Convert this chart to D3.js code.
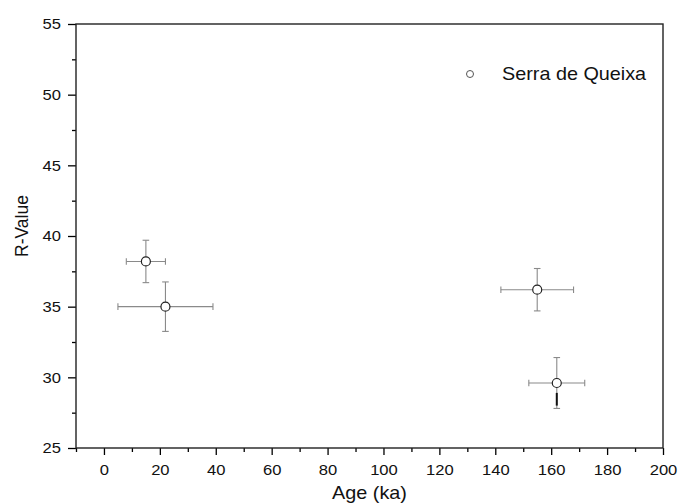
<!DOCTYPE html>
<html>
<head>
<meta charset="utf-8">
<script src="https://cdn.jsdelivr.net/npm/d3@7/dist/d3.min.js"></script>
<style>
  html, body { margin: 0; padding: 0; background: #fff; }
  svg { display: block; font-family: "Liberation Sans", Arial, sans-serif; }
</style>
</head>
<body>
<svg id="chart" width="678" height="504"></svg>
<script>
// ---- data ----
const ages = [15, 22, 155, 162];
const ageErrors = [7, 17, 13, 10];
const rValues = [38.2, 35.0, 36.2, 29.6];
const rErrors = [1.5, 1.75, 1.5, 1.8];
const xTicks = [0, 20, 40, 60, 80, 100, 120, 140, 160, 180, 200];
const yTicks = [25, 30, 35, 40, 45, 50, 55];
const seriesName = "Serra de Queixa";
const xTitle = "Age (ka)";
const yTitle = "R-Value";
// darker overlapping stroke seen on the lower error bar of the last point
const darkSegAge = [162];
const darkSegFrom = [28.9];
const darkSegTo = [28.0];

// ---- layout ----
const svg = d3.select("#chart");
const mL = 76, mR = 663, mT = 24, mB = 448;
const stretch = 1.07;
const tickFont = 15.5;

const x = d3.scaleLinear().domain([-10, 200]).range([mL, mR]);
const y = d3.scaleLinear().domain([25, 55]).range([mB, mT]);

const points = ages.map((a, i) => ({ x: a, xe: ageErrors[i], y: rValues[i], ye: rErrors[i] }));

// minor ticks
const xMinor = d3.range(-10, 201, 10).filter(v => !xTicks.includes(v));
const yMinor = d3.range(25, 55.01, 2.5).filter(v => !yTicks.includes(v));

svg.append("g").attr("transform", `translate(0,${mB})`)
  .call(d3.axisBottom(x).tickValues(xMinor).tickSize(4).tickFormat(""))
  .call(g => g.select(".domain").remove())
  .selectAll("line").attr("stroke", "#000").attr("stroke-width", 1.3);

svg.append("g").attr("transform", `translate(${mL},0)`)
  .call(d3.axisLeft(y).tickValues(yMinor).tickSize(4).tickFormat(""))
  .call(g => g.select(".domain").remove())
  .selectAll("line").attr("stroke", "#000").attr("stroke-width", 1.3);

// major axes
const xAxis = svg.append("g").attr("transform", `translate(0,${mB})`)
  .call(d3.axisBottom(x).tickValues(xTicks).tickSize(7).tickPadding(9).tickFormat(d3.format("d")));
xAxis.select(".domain").remove();
xAxis.selectAll("line").attr("stroke", "#000").attr("stroke-width", 1.3);
xAxis.selectAll("text").attr("font-size", tickFont).attr("fill", "#111")
  .attr("font-family", "Liberation Sans, Arial, sans-serif")
  .attr("transform", `scale(${stretch},1)`);

const yAxis = svg.append("g").attr("transform", `translate(${mL},0)`)
  .call(d3.axisLeft(y).tickValues(yTicks).tickSize(8).tickPadding(6).tickFormat(d3.format("d")));
yAxis.select(".domain").remove();
yAxis.selectAll("line").attr("stroke", "#000").attr("stroke-width", 1.3);
yAxis.selectAll("text").attr("font-size", tickFont).attr("fill", "#111")
  .attr("font-family", "Liberation Sans, Arial, sans-serif")
  .attr("transform", `scale(${stretch},1)`);

// frame
svg.append("rect")
  .attr("x", mL).attr("y", mT)
  .attr("width", mR - mL).attr("height", mB - mT)
  .attr("fill", "none").attr("stroke", "#222").attr("stroke-width", 1.4);

// error bars
const eb = svg.append("g").attr("stroke", "#8a8a8a").attr("stroke-width", 1.1).attr("fill", "none");
const cap = 3.3;
points.forEach(p => {
  const cx = x(p.x), cy = y(p.y);
  const x0 = x(p.x - p.xe), x1 = x(p.x + p.xe);
  const y0 = y(p.y - p.ye), y1 = y(p.y + p.ye);
  eb.append("line").attr("x1", x0).attr("x2", x1).attr("y1", cy).attr("y2", cy);
  eb.append("line").attr("x1", x0).attr("x2", x0).attr("y1", cy - cap).attr("y2", cy + cap);
  eb.append("line").attr("x1", x1).attr("x2", x1).attr("y1", cy - cap).attr("y2", cy + cap);
  eb.append("line").attr("x1", cx).attr("x2", cx).attr("y1", y0).attr("y2", y1);
  eb.append("line").attr("x1", cx - cap).attr("x2", cx + cap).attr("y1", y0).attr("y2", y0);
  eb.append("line").attr("x1", cx - cap).attr("x2", cx + cap).attr("y1", y1).attr("y2", y1);
});

// dark overlap segment
svg.append("g").selectAll("line").data(darkSegAge).join("line")
  .attr("x1", d => x(d)).attr("x2", d => x(d))
  .attr("y1", (d, i) => y(darkSegFrom[i])).attr("y2", (d, i) => y(darkSegTo[i]))
  .attr("stroke", "#111").attr("stroke-width", 2);

// markers
svg.append("g").selectAll("circle").data(points).join("circle")
  .attr("cx", d => x(d.x)).attr("cy", d => y(d.y)).attr("r", 4.5)
  .attr("fill", "#fff").attr("stroke", "#222").attr("stroke-width", 1.2);

// axis titles
svg.append("text")
  .attr("transform", `translate(${(mL + mR) / 2},499) scale(1.1,1)`)
  .attr("text-anchor", "middle").attr("font-size", 18).attr("fill", "#111")
  .text(xTitle);

svg.append("text")
  .attr("transform", `translate(28,226) rotate(-90)`)
  .attr("text-anchor", "middle").attr("font-size", 17.5).attr("fill", "#111")
  .text(yTitle);

// legend
svg.append("circle").attr("cx", 470).attr("cy", 74).attr("r", 3.5)
  .attr("fill", "#fff").attr("stroke", "#555").attr("stroke-width", 1);
svg.append("text")
  .attr("transform", `translate(502,80) scale(1.1,1)`)
  .attr("font-size", 18).attr("fill", "#111")
  .text(seriesName);
</script>
</body>
</html>
